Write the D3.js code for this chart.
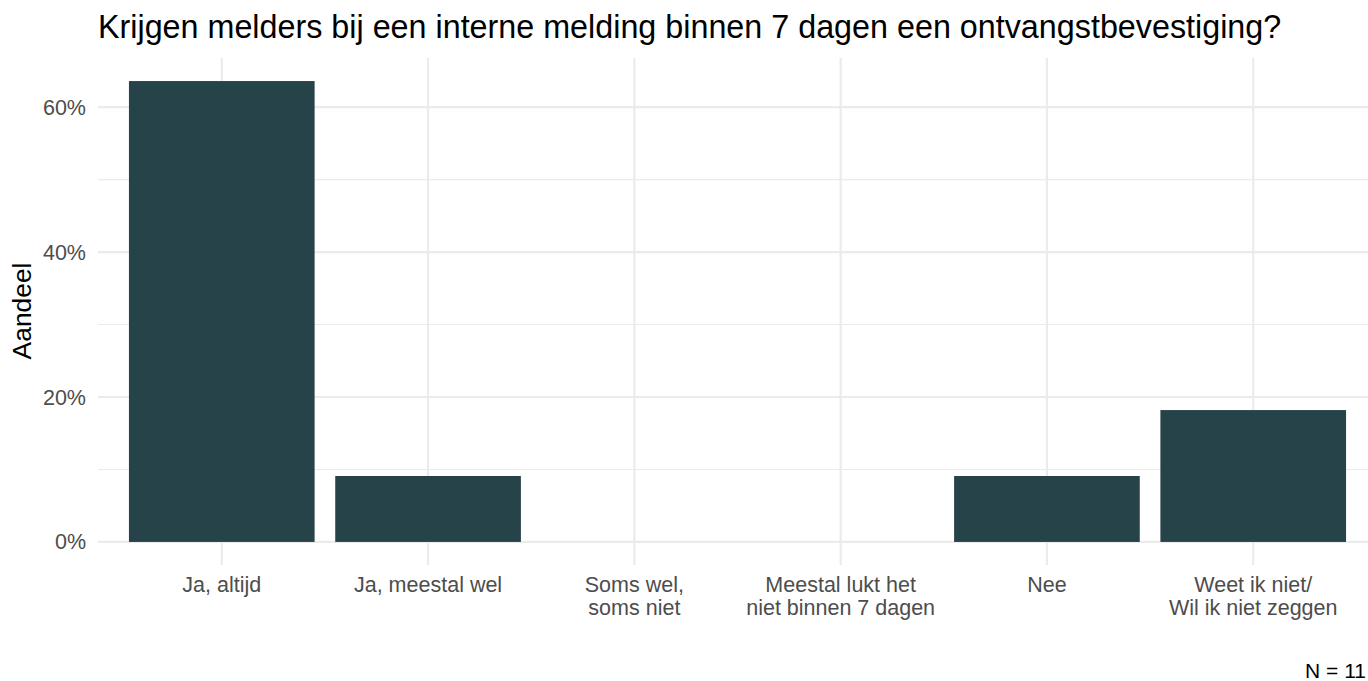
<!DOCTYPE html>
<html>
<head>
<meta charset="utf-8">
<script src="https://cdn.jsdelivr.net/npm/d3@7"></script>
<style>
  body { margin: 0; background: #fff; }
  svg { display: block; font-family: "Liberation Sans", Arial, sans-serif; }
</style>
</head>
<body>
<div id="chart"></div>
<script>
// categorieen en aandelen
const categories = [
    ["Ja, altijd"],
    ["Ja, meestal wel"],
    ["Soms wel,", "soms niet"],
    ["Meestal lukt het", "niet binnen 7 dagen"],
    ["Nee"],
    ["Weet ik niet/", "Wil ik niet zeggen"]
];
const shares = [0.636, 0.091, 0, 0, 0.091, 0.182];
const yTicks = [0, 0.2, 0.4, 0.6];
const yMinor = [0.1, 0.3, 0.5];
const title = "Krijgen melders bij een interne melding binnen 7 dagen een ontvangstbevestiging?";
const yTitle = "Aandeel";
const note = "N = 11";

const width = 1368, height = 681;
const panel = { left: 98, right: 1377, top: 58, bottom: 565 };

const svg = d3.select("#chart").append("svg")
    .attr("width", width)
    .attr("height", height);

const keys = categories.map(c => c.join(" "));

const x = d3.scaleBand()
    .domain(keys)
    .range([panel.left, panel.right])
    .paddingInner(0.1)
    .paddingOuter(0.15);

const yMax = d3.max(shares) * 1.05;
const y = d3.scaleLinear()
    .domain([-d3.max(shares) * 0.05, yMax])
    .range([panel.bottom, panel.top]);

// grid
svg.append("g").selectAll("line.minor")
    .data(yMinor)
    .join("line")
    .attr("x1", panel.left).attr("x2", panel.right)
    .attr("y1", d => y(d)).attr("y2", d => y(d))
    .attr("stroke", "#ebebeb").attr("stroke-width", 1.1);

svg.append("g").selectAll("line.major")
    .data(yTicks)
    .join("line")
    .attr("x1", panel.left).attr("x2", panel.right)
    .attr("y1", d => y(d)).attr("y2", d => y(d))
    .attr("stroke", "#ebebeb").attr("stroke-width", 2.2);

svg.append("g").selectAll("line")
    .data(keys)
    .join("line")
    .attr("x1", d => x(d) + x.bandwidth() / 2).attr("x2", d => x(d) + x.bandwidth() / 2)
    .attr("y1", panel.top).attr("y2", panel.bottom)
    .attr("stroke", "#ebebeb").attr("stroke-width", 2.2);

// bars
svg.append("g").selectAll("rect")
    .data(shares)
    .join("rect")
    .attr("x", (d, i) => x(keys[i]))
    .attr("width", x.bandwidth())
    .attr("y", d => y(d))
    .attr("height", d => y(0) - y(d))
    .attr("fill", "#27434a");

// y axis labels
svg.append("g").selectAll("text")
    .data(yTicks)
    .join("text")
    .attr("x", 86)
    .attr("y", d => y(d))
    .attr("dy", "0.35em")
    .attr("text-anchor", "end")
    .attr("fill", "#4d4d4d")
    .style("font-size", "21.5px")
    .text(d => d3.format(".0%")(d));

// x axis labels
const xl = svg.append("g").selectAll("text")
    .data(categories)
    .join("text")
    .attr("x", (d, i) => x(keys[i]) + x.bandwidth() / 2)
    .attr("y", 592)
    .attr("text-anchor", "middle")
    .attr("fill", "#4d4d4d")
    .style("font-size", "21.5px");

xl.selectAll("tspan")
    .data(d => d)
    .join("tspan")
    .attr("x", function() { return this.parentNode.getAttribute("x"); })
    .attr("dy", (d, i) => i === 0 ? 0 : 23)
    .text(d => d);

// titles
svg.append("text")
    .attr("x", 98)
    .attr("y", 38)
    .style("font-size", "32.3px")
    .attr("fill", "#000")
    .text(title);

svg.append("text")
    .attr("transform", `translate(31, ${(y(0) + panel.top) / 2 + 11}) rotate(-90)`)
    .attr("text-anchor", "middle")
    .style("font-size", "26.4px")
    .attr("fill", "#000")
    .text(yTitle);

svg.append("text")
    .attr("x", 1366)
    .attr("y", 678)
    .attr("text-anchor", "end")
    .style("font-size", "21px")
    .attr("fill", "#000")
    .text(note);
</script>
</body>
</html>
